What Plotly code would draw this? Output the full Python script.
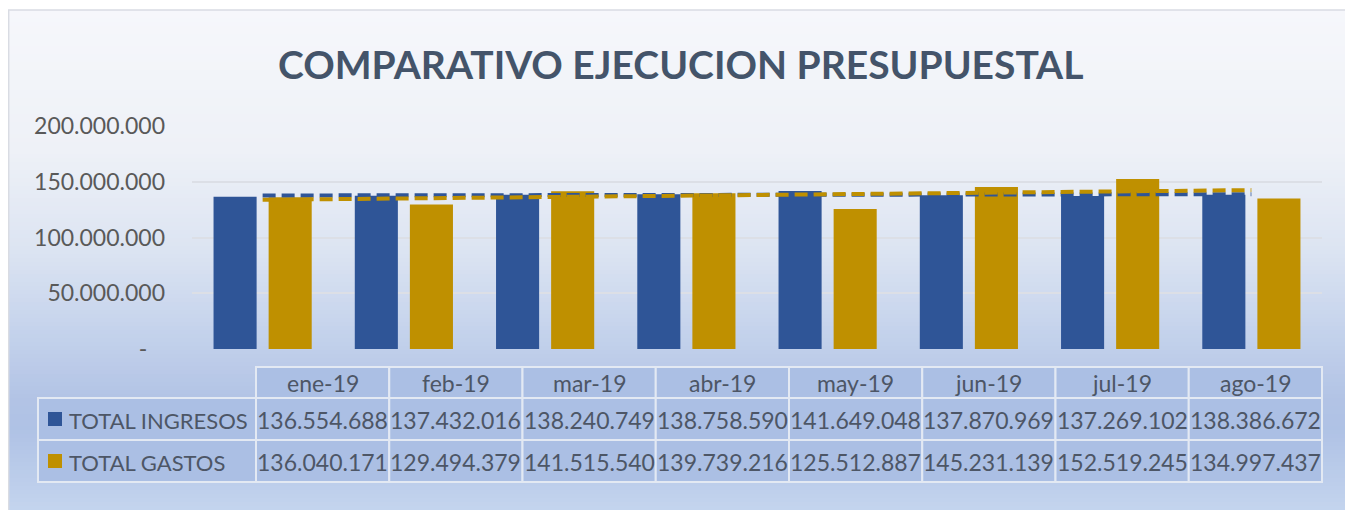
import plotly.graph_objects as go
import numpy as np

# ---- data ----
months = ["ene-19", "feb-19", "mar-19", "abr-19", "may-19", "jun-19", "jul-19", "ago-19"]
ingresos = [136554688, 137432016, 138240749, 138758590, 141649048, 137870969, 137269102, 138386672]
gastos = [136040171, 129494379, 141515540, 139739216, 125512887, 145231139, 152519245, 134997437]
series_names = ["TOTAL INGRESOS", "TOTAL GASTOS"]
y_ticks = [0, 50000000, 100000000, 150000000, 200000000]
y_ticklabels = ["-\u00a0\u00a0\u00a0", "50.000.000", "100.000.000", "150.000.000", "200.000.000"]
title = "COMPARATIVO EJECUCION PRESUPUESTAL"

BLUE = "#2f5597"
GOLD = "#bf9000"
OFF = 8  # browser body margin
W, H = 1353 - OFF, 510 - OFF


def px(x):
    return (x - OFF) / W


def py(y):
    return 1 - (y - OFF) / H


def fmt(v):
    return f"{v:,}".replace(",", ".")


def trend(vals):
    idx = np.arange(len(vals))
    m, b = np.polyfit(idx, vals, 1)
    return list(m * idx + b)


fig = go.Figure()

# gradient background (strips)
stops = [(10, (246, 247, 251)), (150, (238, 241, 247)), (250, (220, 228, 242)),
         (330, (197, 211, 236)), (400, (178, 195, 229)), (430, (175, 194, 229)),
         (510, (196, 212, 238))]
shapes = []
n = 125
for i in range(n):
    y0 = 10 + 500 * i / n
    y1 = min(10 + 500 * (i + 1) / n + 0.6, 510)
    ym = (y0 + y1) / 2
    c = stops[-1][1]
    for (a, ca), (b, cb) in zip(stops[:-1], stops[1:]):
        if a <= ym <= b:
            t = (ym - a) / (b - a)
            c = tuple(int(round(ca[k] + (cb[k] - ca[k]) * t)) for k in range(3))
            break
    shapes.append(dict(type="rect", xref="paper", yref="paper", x0=0, x1=1.0,
                       y0=py(y1), y1=py(y0), line=dict(width=0),
                       fillcolor=f"rgb{c}", layer="below"))
shapes.append(dict(type="rect", xref="paper", yref="paper", x0=0.0005, x1=1.01,
                   y0=-0.01, y1=py(10), line=dict(width=1.5, color="#d9dce3"),
                   fillcolor="rgba(0,0,0,0)", layer="below"))

fig.add_trace(go.Bar(x=months, y=ingresos, name=series_names[0], marker_color=BLUE,
                     marker_line_width=0, showlegend=False))
fig.add_trace(go.Bar(x=months, y=gastos, name=series_names[1], marker_color=GOLD,
                     marker_line_width=0, showlegend=False))
fig.add_trace(go.Scatter(x=months, y=trend(ingresos), mode="lines",
                         line=dict(color=BLUE, width=4, dash="13px,6px"), showlegend=False))
fig.add_trace(go.Scatter(x=months, y=trend(gastos), mode="lines",
                         line=dict(color=GOLD, width=4, dash="13px,6px"), showlegend=False))

# ---- data table (drawn with shapes + annotations) ----
CELL = "#abbfe4"
LINE = "#e3e9f3"
TFONT = dict(family="Lato", size=23, color="#4d5666")
LFONT = dict(family="Lato", size=22, color="#4d5666")
tx0, lab_w, col_w = 38, 218, 133.25
rows_y = [367, 398, 440, 482]
annotations = []


def cell(x0, x1, y0, y1):
    shapes.append(dict(type="rect", xref="paper", yref="paper", x0=px(x0), x1=px(x1),
                       y0=py(y1), y1=py(y0), line=dict(color=LINE, width=2),
                       fillcolor=CELL, layer="below"))


col_x = [tx0 + lab_w + i * col_w for i in range(len(months) + 1)]
for i, m in enumerate(months):
    cell(col_x[i], col_x[i + 1], rows_y[0], rows_y[1])
    annotations.append(dict(text=m, x=px((col_x[i] + col_x[i + 1]) / 2),
                            y=py((rows_y[0] + rows_y[1]) / 2), xref="paper", yref="paper",
                            xanchor="center", yanchor="middle", showarrow=False, font=TFONT))
for r, (name, vals, color) in enumerate(zip(series_names, [ingresos, gastos], [BLUE, GOLD])):
    ya, yb = rows_y[r + 1], rows_y[r + 2]
    yc = (ya + yb) / 2
    cell(tx0, col_x[0], ya, yb)
    shapes.append(dict(type="rect", xref="paper", yref="paper", x0=px(48), x1=px(62),
                       y0=py(yc + 7), y1=py(yc - 7), line=dict(width=0), fillcolor=color,
                       layer="below"))
    annotations.append(dict(text=name, x=px(67), y=py(yc + 1), xref="paper", yref="paper",
                            xanchor="left", yanchor="middle", showarrow=False, font=LFONT))
    for i, v in enumerate(vals):
        cell(col_x[i], col_x[i + 1], ya, yb)
        annotations.append(dict(text=fmt(v), x=px((col_x[i] + col_x[i + 1]) / 2),
                                y=py(yc + 1), xref="paper", yref="paper",
                                xanchor="center", yanchor="middle", showarrow=False,
                                font=TFONT))

annotations.append(dict(text=f"<b>{title}</b>", x=px(680), y=py(64), xref="paper", yref="paper",
                        xanchor="center", yanchor="middle", showarrow=False,
                        font=dict(family="Lato", size=39, color="#44546a")))

fig.update_layout(
    width=W, height=H,
    margin=dict(l=0, r=0, t=0, b=0),
    paper_bgcolor="white", plot_bgcolor="rgba(0,0,0,0)",
    barmode="group", bargap=0.22, bargroupgap=0.218,
    shapes=shapes,
    xaxis=dict(domain=[px(192), px(1322)], type="category", showticklabels=False,
               showgrid=False, zeroline=False, showline=False, automargin=False),
    yaxis=dict(domain=[py(349), py(126)], range=[0, 200000000], tickvals=y_ticks,
               ticktext=y_ticklabels, showgrid=True, gridcolor="#dcdfe6", gridwidth=2,
               zeroline=False, showline=False, ticks="", ticklabelstandoff=26,
               tickfont=dict(family="Lato", size=23, color="#595959"), automargin=False),
    annotations=annotations,
    showlegend=False,
)

fig.write_html("out.html")
